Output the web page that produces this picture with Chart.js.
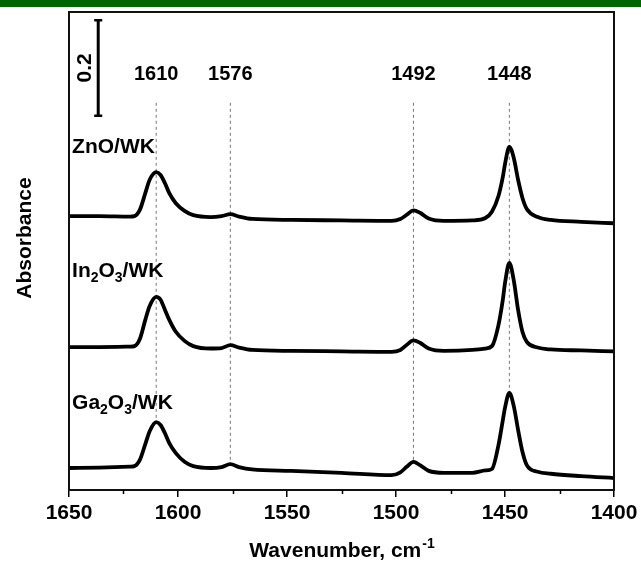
<!DOCTYPE html>
<html><head><meta charset="utf-8">
<script src="https://cdn.jsdelivr.net/npm/chart.js@4.4.1/dist/chart.umd.min.js"></script>
<style>html,body{margin:0;padding:0;background:#fff;overflow:hidden}canvas{display:block}</style>
</head><body>
<canvas id="c" width="641" height="562"></canvas>
<script>
const wavenumbers = [1650,1636,1622,1620,1617.5,1615,1613,1610,1608,1606,1604,1601,1597,1593,1585,1580,1576,1572,1566,1548,1525,1502,1498,1495,1492,1489,1485,1478,1465,1459,1456,1453,1451,1450,1448,1446,1444,1442,1440,1435,1429,1415,1400];
const znoWK = [0.573,0.573,0.572,0.573,0.586,0.621,0.649,0.665,0.659,0.642,0.621,0.600,0.584,0.575,0.571,0.573,0.577,0.572,0.567,0.565,0.564,0.563,0.567,0.576,0.585,0.580,0.568,0.563,0.564,0.569,0.582,0.615,0.655,0.682,0.718,0.695,0.649,0.611,0.588,0.571,0.565,0.561,0.558];
const in2o3WK = [0.299,0.299,0.300,0.301,0.316,0.356,0.385,0.404,0.398,0.377,0.356,0.331,0.312,0.301,0.296,0.297,0.303,0.298,0.293,0.291,0.290,0.289,0.293,0.304,0.313,0.308,0.296,0.291,0.293,0.296,0.301,0.345,0.398,0.433,0.475,0.439,0.377,0.331,0.310,0.298,0.294,0.292,0.290];
const ga2o3WK = [0.046,0.047,0.049,0.050,0.063,0.096,0.123,0.142,0.136,0.119,0.098,0.077,0.059,0.050,0.046,0.048,0.054,0.048,0.043,0.040,0.036,0.031,0.037,0.049,0.059,0.052,0.040,0.036,0.036,0.041,0.044,0.094,0.146,0.172,0.203,0.176,0.126,0.080,0.052,0.038,0.034,0.029,0.025];
const peakPositions = [1610, 1576, 1492, 1448];
const peakLabels = ['1610', '1576', '1492', '1448'];
const xMajorTicks = [1650, 1600, 1550, 1500, 1450, 1400];
const xMinorTicks = [1625, 1575, 1525, 1475, 1425];
const sampleNames = [
  [['ZnO/WK', false]],
  [['In', false], ['2', true], ['O', false], ['3', true], ['/WK', false]],
  [['Ga', false], ['2', true], ['O', false], ['3', true], ['/WK', false]]
];
const sampleLabelY = [0.705, 0.446, 0.170];
const sampleLabelX = 1648.6;
const scaleBarValue = 0.2;
const scaleBarBottom = 0.783;
const scaleBarX = 1636.6;
const peakLabelY = 0.870;
const dashTopY = 0.810;

const FONT = "'Liberation Sans', Arial, Helvetica, sans-serif";

function toPts(ys) { return wavenumbers.map((x, i) => ({x: x, y: ys[i]})); }
function gaAt(wn) { return ga2o3WK[wavenumbers.indexOf(wn)]; }

const spectrumStyle = {borderColor: '#000', borderWidth: 3.8, pointRadius: 0, fill: false, tension: 0.4, cubicInterpolationMode: 'monotone', borderJoinStyle: 'round', borderCapStyle: 'round'};

const datasets = [
  Object.assign({label: 'ZnO/WK', data: toPts(znoWK)}, spectrumStyle),
  Object.assign({label: 'In2O3/WK', data: toPts(in2o3WK)}, spectrumStyle),
  Object.assign({label: 'Ga2O3/WK', data: toPts(ga2o3WK)}, spectrumStyle)
];
peakPositions.forEach(p => {
  datasets.push({label: 'd' + p, data: [{x: p, y: dashTopY}, {x: p, y: gaAt(p)}], borderColor: '#777', borderWidth: 1, borderDash: [3, 3], pointRadius: 0, tension: 0});
});

const decor = {
  id: 'decor',
  beforeDraw(chart) {
    const ctx = chart.ctx;
    ctx.save();
    ctx.fillStyle = '#fff';
    ctx.fillRect(0, 0, chart.width, chart.height);
    ctx.fillStyle = '#006400';
    ctx.fillRect(0, 0, chart.width, 7);
    ctx.restore();
  },
  afterDatasetsDraw(chart) {
    const ctx = chart.ctx, xs = chart.scales.x, ys = chart.scales.y, a = chart.chartArea;
    ctx.save();
    ctx.strokeStyle = '#111';
    ctx.lineWidth = 2;
    ctx.strokeRect(a.left, a.top, a.right - a.left, a.bottom - a.top);
    ctx.lineWidth = 1.5;
    ctx.strokeStyle = '#000';
    xMinorTicks.forEach(t => {
      const px = Math.round(xs.getPixelForValue(t)) + 0.5;
      ctx.beginPath(); ctx.moveTo(px, a.bottom); ctx.lineTo(px, a.bottom + 4); ctx.stroke();
    });
    const bx = xs.getPixelForValue(scaleBarX);
    const by0 = ys.getPixelForValue(scaleBarBottom), by1 = ys.getPixelForValue(scaleBarBottom + scaleBarValue);
    ctx.lineWidth = 3;
    ctx.beginPath(); ctx.moveTo(bx, by0); ctx.lineTo(bx, by1); ctx.stroke();
    ctx.lineWidth = 2.5;
    ctx.beginPath(); ctx.moveTo(bx - 4, by0); ctx.lineTo(bx + 4, by0); ctx.moveTo(bx - 4, by1); ctx.lineTo(bx + 4, by1); ctx.stroke();
    ctx.fillStyle = '#000';
    ctx.font = 'bold 21px ' + FONT;
    ctx.save();
    ctx.translate(bx - 13, (by0 + by1) / 2);
    ctx.rotate(-Math.PI / 2);
    ctx.textAlign = 'center'; ctx.textBaseline = 'middle';
    ctx.fillText(String(scaleBarValue), 0, 0);
    ctx.restore();
    ctx.font = 'bold 20px ' + FONT;
    ctx.textAlign = 'center'; ctx.textBaseline = 'middle';
    peakPositions.forEach((p, i) => {
      ctx.fillText(peakLabels[i], xs.getPixelForValue(p), ys.getPixelForValue(peakLabelY));
    });
    ctx.textAlign = 'left'; ctx.textBaseline = 'alphabetic';
    sampleNames.forEach((parts, i) => {
      let x = xs.getPixelForValue(sampleLabelX);
      const y = ys.getPixelForValue(sampleLabelY[i]);
      parts.forEach(([txt, sub]) => {
        ctx.font = (sub ? 'bold 14px ' : 'bold 21px ') + FONT;
        ctx.fillText(txt, x, sub ? y + 5 : y);
        x += ctx.measureText(txt).width;
      });
    });
    const main = 'Wavenumber, cm';
    ctx.font = 'bold 21px ' + FONT;
    const w1 = ctx.measureText(main).width;
    ctx.font = 'bold 14px ' + FONT;
    const w2 = ctx.measureText('-1').width;
    const cx = (a.left + a.right) / 2;
    const sx = cx - (w1 + w2) / 2;
    const ty = a.bottom + 67;
    ctx.font = 'bold 21px ' + FONT;
    ctx.fillText(main, sx, ty);
    ctx.font = 'bold 14px ' + FONT;
    ctx.fillText('-1', sx + w1 + 1, ty - 9);
    ctx.save();
    ctx.translate(25, (a.top + a.bottom) / 2 - 13);
    ctx.rotate(-Math.PI / 2);
    ctx.font = 'bold 21px ' + FONT;
    ctx.textAlign = 'center'; ctx.textBaseline = 'middle';
    ctx.fillText('Absorbance', 0, 0);
    ctx.restore();
    ctx.restore();
  }
};

new Chart(document.getElementById('c'), {
  type: 'line',
  data: {datasets: datasets},
  options: {
    responsive: false,
    devicePixelRatio: 1,
    animation: false,
    layout: {padding: {top: 12, right: 27, left: 0, bottom: 0}},
    plugins: {legend: {display: false}, tooltip: {enabled: false}},
    scales: {
      x: {
        type: 'linear', reverse: true, min: 1400, max: 1650,
        afterFit(s) { s.height = 72; s.paddingRight = 0; s.paddingLeft = 0; },
        afterBuildTicks(s) { s.ticks = xMajorTicks.map(v => ({value: v})); },
        ticks: {font: {family: FONT, size: 21, weight: 'bold'}, color: '#000', padding: 4, maxRotation: 0, autoSkip: false, callback: v => String(v)},
        grid: {drawOnChartArea: false, drawTicks: true, tickLength: 7, color: '#000', lineWidth: 1.5},
        border: {display: false}
      },
      y: {
        type: 'linear', min: 0, max: 1,
        afterFit(s) { s.width = 69; },
        ticks: {display: false},
        grid: {display: false},
        border: {display: false}
      }
    }
  },
  plugins: [decor]
});
</script>
</body></html>
